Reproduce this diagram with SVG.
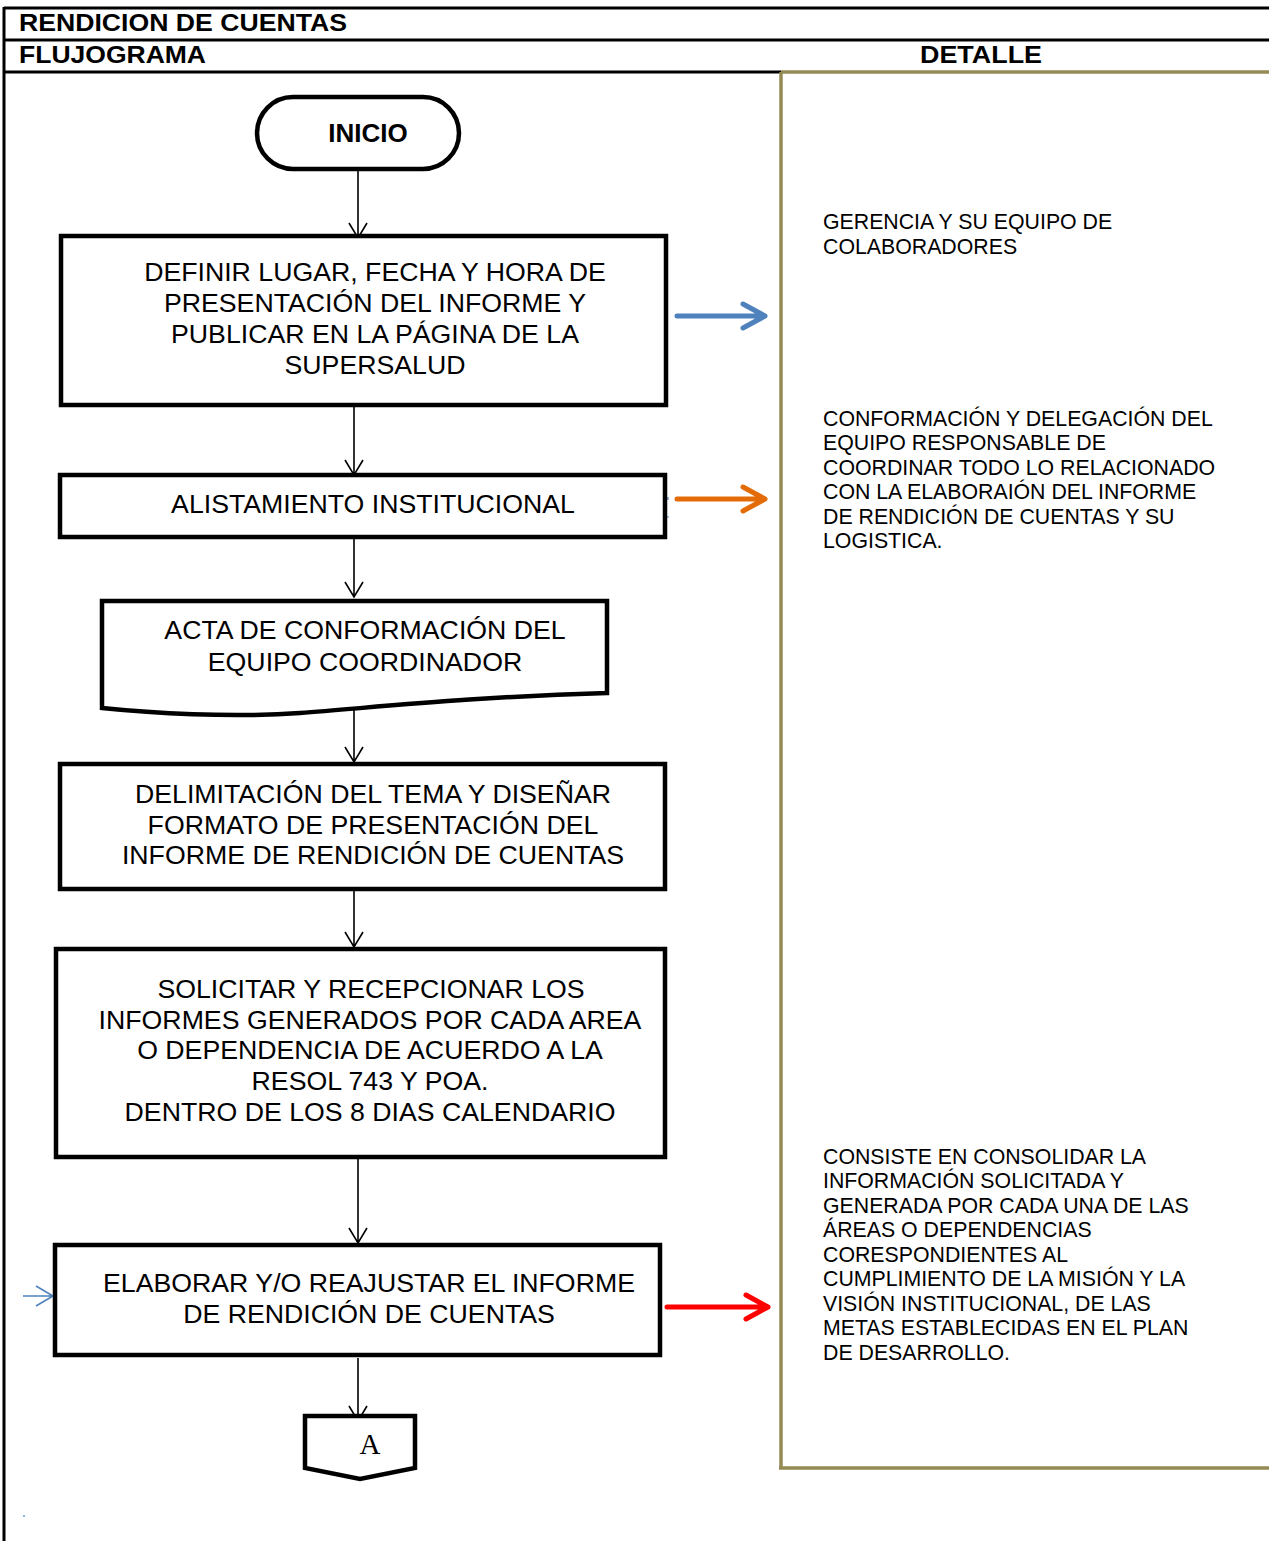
<svg xmlns="http://www.w3.org/2000/svg" width="1269" height="1541" viewBox="0 0 1269 1541">
<defs>
<style>
.frame{stroke:#000;stroke-width:3;fill:none}
.olive{stroke:#948A54;stroke-width:3.5;fill:none}
.box{fill:#fff;stroke:#000;stroke-width:4.5;stroke-linejoin:miter}
.hdr{font-family:"Liberation Sans",Arial,sans-serif;font-weight:bold;font-size:24px;fill:#000}
.bt{font-family:"Liberation Sans",Arial,sans-serif;font-size:26.7px;fill:#000;text-anchor:middle}
.rt{font-family:"Liberation Sans",Arial,sans-serif;font-size:21.3px;fill:#000}
.conn{stroke:#000;stroke-width:1.6;fill:none}
.carrow{fill:none;stroke-width:5;stroke-linecap:round;stroke-linejoin:round}
</style>
</defs>
<rect width="1269" height="1541" fill="#fff"/>
<g id="frame">
<line class="frame" x1="4" y1="8" x2="1269" y2="8"/>
<line class="frame" x1="4" y1="40" x2="1269" y2="40"/>
<line class="frame" x1="4" y1="72" x2="781" y2="72"/>
<line class="frame" x1="4" y1="7" x2="4" y2="1541"/>
<line class="olive" x1="781" y1="72" x2="1269" y2="72"/>
<line class="olive" x1="781" y1="72" x2="781" y2="1468"/>
<line class="olive" x1="779" y1="1468" x2="1269" y2="1468"/>
<text class="hdr" x="19" y="31" textLength="328" lengthAdjust="spacingAndGlyphs">RENDICION DE CUENTAS</text>
<text class="hdr" x="19" y="63" textLength="187" lengthAdjust="spacingAndGlyphs">FLUJOGRAMA</text>
<text class="hdr" x="920" y="63" textLength="122" lengthAdjust="spacingAndGlyphs">DETALLE</text>
</g>
<g id="connectors">
<path class="conn" d="M358,170 V238 M349,223 L358,238 L367,223"/>
<path class="conn" d="M354,405 V475 M345,460 L354,475 L363,460"/>
<path class="conn" d="M354,537 V597 M345,582 L354,597 L363,582"/>
<path class="conn" d="M354,700 V762 M345,747 L354,762 L363,747"/>
<path class="conn" d="M354,889 V947 M345,932 L354,947 L363,932"/>
<path class="conn" d="M358,1148 V1243 M349,1228 L358,1243 L367,1228"/>
<path class="conn" d="M358,1358 V1421 M349,1406 L358,1421 L367,1406"/>
<path class="conn" style="stroke:#4F81BD" d="M23,1296 H53 M36,1286 L53,1296 L36,1306"/>
<path class="carrow" style="stroke:#4F81BD" d="M677,316 H765 M743,304 L765,316 L743,328"/>
<path class="carrow" style="stroke:#E36C09" d="M677,499 H765 M743,487 L765,499 L743,511"/>
<path class="carrow" style="stroke:#FF0000" d="M667,1307 H768 M746,1295 L768,1307 L746,1319"/>
<path style="stroke:#4F81BD;stroke-width:1.2" d="M668,497 V500 M664,517 H669 M24,1515 V1517"/>
</g>
<g id="inicio">
<rect class="box" x="257" y="97" width="202" height="72" rx="36"/>
<text class="hdr" x="368" y="142" text-anchor="middle" style="font-size:26px">INICIO</text>
</g>
<g id="definir">
<rect class="box" x="61" y="236" width="605" height="169"/>
<text class="bt" x="375" y="281">DEFINIR LUGAR, FECHA Y HORA DE</text>
<text class="bt" x="375" y="312">PRESENTACIÓN DEL INFORME Y</text>
<text class="bt" x="375" y="343">PUBLICAR EN LA PÁGINA DE LA</text>
<text class="bt" x="375" y="374">SUPERSALUD</text>
</g>
<g id="alistamiento">
<rect class="box" x="60" y="475" width="605" height="62"/>
<text class="bt" x="373" y="513">ALISTAMIENTO INSTITUCIONAL</text>
</g>
<g id="acta">
<path class="box" d="M102,601 H607 V693 C470,697 380,707 300,713 C230,718 150,713 102,708 Z"/>
<text class="bt" x="365" y="639">ACTA DE CONFORMACIÓN DEL</text>
<text class="bt" x="365" y="671">EQUIPO COORDINADOR</text>
</g>
<g id="delimitacion">
<rect class="box" x="60" y="764" width="605" height="125"/>
<text class="bt" x="373" y="803">DELIMITACIÓN DEL TEMA Y DISEÑAR</text>
<text class="bt" x="373" y="834">FORMATO DE PRESENTACIÓN DEL</text>
<text class="bt" x="373" y="864">INFORME DE RENDICIÓN DE CUENTAS</text>
</g>
<g id="solicitar">
<rect class="box" x="56" y="949" width="609" height="208"/>
<text class="bt" x="371" y="998">SOLICITAR Y RECEPCIONAR LOS</text>
<text class="bt" x="370" y="1029">INFORMES GENERADOS POR CADA AREA</text>
<text class="bt" x="370" y="1059">O DEPENDENCIA DE ACUERDO A LA</text>
<text class="bt" x="370" y="1090">RESOL 743 Y POA.</text>
<text class="bt" x="370" y="1121">DENTRO DE LOS 8 DIAS CALENDARIO</text>
</g>
<g id="elaborar">
<rect class="box" x="55" y="1245" width="605" height="110"/>
<text class="bt" x="369" y="1292">ELABORAR Y/O REAJUSTAR EL INFORME</text>
<text class="bt" x="369" y="1323">DE RENDICIÓN DE CUENTAS</text>
</g>
<g id="conector-a">
<path class="box" d="M305,1416 H415 V1468 L360,1479 L305,1468 Z" stroke-linejoin="round"/>
<text x="370" y="1454" text-anchor="middle" font-family="'Liberation Serif','Times New Roman',serif" font-size="29">A</text>
</g>
<g id="detalle-1">
<text class="rt" x="823" y="229">GERENCIA Y SU EQUIPO DE</text>
<text class="rt" x="823" y="254">COLABORADORES</text>
</g>
<g id="detalle-2">
<text class="rt" x="823" y="425.5">CONFORMACIÓN Y DELEGACIÓN DEL</text>
<text class="rt" x="823" y="450">EQUIPO RESPONSABLE DE</text>
<text class="rt" x="823" y="474.5">COORDINAR TODO LO RELACIONADO</text>
<text class="rt" x="823" y="499">CON LA ELABORAIÓN DEL INFORME</text>
<text class="rt" x="823" y="523.5">DE RENDICIÓN DE CUENTAS Y SU</text>
<text class="rt" x="823" y="548">LOGISTICA.</text>
</g>
<g id="detalle-3">
<text class="rt" x="823" y="1163.5">CONSISTE EN CONSOLIDAR LA</text>
<text class="rt" x="823" y="1188">INFORMACIÓN SOLICITADA Y</text>
<text class="rt" x="823" y="1212.5">GENERADA POR CADA UNA DE LAS</text>
<text class="rt" x="823" y="1237">ÁREAS O DEPENDENCIAS</text>
<text class="rt" x="823" y="1261.5">CORESPONDIENTES AL</text>
<text class="rt" x="823" y="1286">CUMPLIMIENTO DE LA MISIÓN Y LA</text>
<text class="rt" x="823" y="1310.5">VISIÓN INSTITUCIONAL, DE LAS</text>
<text class="rt" x="823" y="1335">METAS ESTABLECIDAS EN EL PLAN</text>
<text class="rt" x="823" y="1359.5">DE DESARROLLO.</text>
</g>
</svg>
